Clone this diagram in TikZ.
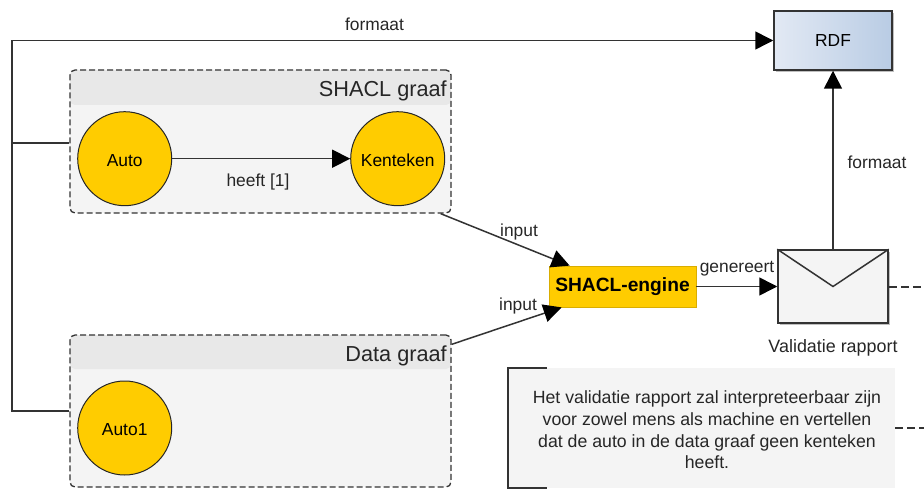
\documentclass[tikz,border=0pt]{standalone}
\usepackage{fontspec}
\setmainfont{Liberation Sans}
\usepackage{xcolor}
\usetikzlibrary{arrows.meta,positioning,shadows,calc}
\definecolor{darkline}{HTML}{333333}
\definecolor{headgray}{HTML}{E8E8E8}
\definecolor{bodygray}{HTML}{F4F4F4}
\definecolor{amber}{HTML}{FFCC00}
\definecolor{rdfleft}{HTML}{E2E9F4}
\definecolor{rdfright}{HTML}{B9CCE4}
\tikzset{
  flow/.style={draw=darkline, line width=1.5pt},
  tip/.style={-{Triangle[length=18pt,width=18pt,color=black]}},
  lbl/.style={font=\fontsize{17.4}{21}\selectfont, text=black!85, inner sep=0pt},
  graafbox/.style={draw=darkline, line width=1.3pt, dash pattern=on 6pt off 3pt, fill=bodygray, rounded corners=5pt,
    minimum width=381pt, inner sep=0pt,
    path picture={\fill[headgray] (path picture bounding box.north west) rectangle ([yshift=-#1]path picture bounding box.north east);}},
  graaftitle/.style={font=\fontsize{21.7}{26}\selectfont, text=black!85, inner sep=0pt, anchor=east},
  klasse/.style={circle, draw=black!85, line width=1pt, fill=amber, minimum size=94pt, inner sep=0pt, text height=15pt, text depth=0pt, font=\fontsize{17.4}{21}\selectfont},
  softshadow/.style={drop shadow={shadow xshift=2pt, shadow yshift=-2pt, opacity=.25, fill=black}}
}
\begin{document}
\begin{tikzpicture}[x=1pt,y=-1pt]
\useasboundingbox (0,0) rectangle (924,489);
% nodes
\node[graafbox=35pt, minimum height=143pt] (shaclgraaf) at (260.5,141.5) {};%
\node[graaftitle] (shacltitle) at (447,91) {SHACL graaf};%
\node[klasse] (auto) at (124.7,158.7) {Auto};%
\node[klasse, right=178pt of auto] (kenteken) {Kenteken};%
\node[lbl] (heeft) at (258,182) {heeft [1]};%

\node[graafbox=34pt, minimum height=152pt] (datagraaf) at (260.5,411) {};%
\node[graaftitle] (datatitle) at (447,356) {Data graaf};%
\node[klasse] (auto1) at (124.7,428) {Auto1};%

\node[draw=darkline, line width=1.5pt, left color=rdfleft, right color=rdfright, softshadow, minimum width=118pt, minimum height=59pt, inner sep=0pt, font=\fontsize{17.4}{21}\selectfont] (rdf) at (833,40.5) {RDF};%
\node[fill=amber, draw=amber!85!black, line width=.8pt, minimum width=147pt, minimum height=41pt, inner sep=0pt, font=\bfseries\fontsize{19.2}{23}\selectfont] (engine) at (622.5,286.5) {SHACL-engine};%
\node[draw=darkline, line width=1.5pt, fill=bodygray, softshadow, minimum width=110pt, minimum height=73pt, inner sep=0pt] (rapport) at (833,286.5) {};%
\node[lbl, font=\fontsize{17.9}{21}\selectfont, below=16pt of rapport] (rapportlabel) {Validatie rapport};%

\node[fill=bodygray, minimum width=387pt, minimum height=120pt, inner sep=0pt] (note) at (701.5,428) {};%
\node[lbl, align=center, font=\fontsize{17.7}{21.7}\selectfont] (notetext) at ([xshift=5.5pt,yshift=-2pt]note.center) {Het validatie rapport zal interpreteerbaar zijn\\voor zowel mens als machine en vertellen\\dat de auto in de data graaf geen kenteken\\heeft.};%

\coordinate (bus) at (12,40.5);
\coordinate (edgeone) at (924,287);
\coordinate (edgetwo) at (924,428);

% connectors
\draw[flow, tip] (datagraaf.west) -| (bus) -- (rdf.west);
\draw[flow] ([yshift=-1.5pt]shaclgraaf.west) -- ([yshift=-1.5pt]bus |- shaclgraaf.west);
\draw[flow, tip] (auto) -- (kenteken);
\draw[flow, tip] ([xshift=-11pt]shaclgraaf.south east) -- ([xshift=21pt]engine.north west);
\draw[flow, tip] ([yshift=-10pt]datagraaf.north east) -- ([xshift=13pt]engine.south west);
\draw[flow, tip] (engine) -- (rapport);
\draw[flow, tip] (rapport) -- (rdf);
\draw[flow] (rapport.north west) -- (rapport.center) -- (rapport.north east);
\draw[flow, dash pattern=on 8pt off 4pt] (rapport.east |- edgeone) -- (edgeone);
\draw[flow, dash pattern=on 8pt off 4pt] (note.east) -- (edgetwo);
\draw[flow] ([xshift=39pt]note.north west) -- (note.north west) -- (note.south west) -- ([xshift=39pt]note.south west);

% labels
\node[lbl] (formaattop) at (374.5,24) {formaat};%
\node[lbl] (formaatright) at (877,162) {formaat};%
\node[lbl] (inputone) at (519,232.5) {input};%
\node[lbl] (inputtwo) at (518,306) {input};%
\node[lbl] (genereert) at (737,269) {genereert};%
\end{tikzpicture}
\end{document}
